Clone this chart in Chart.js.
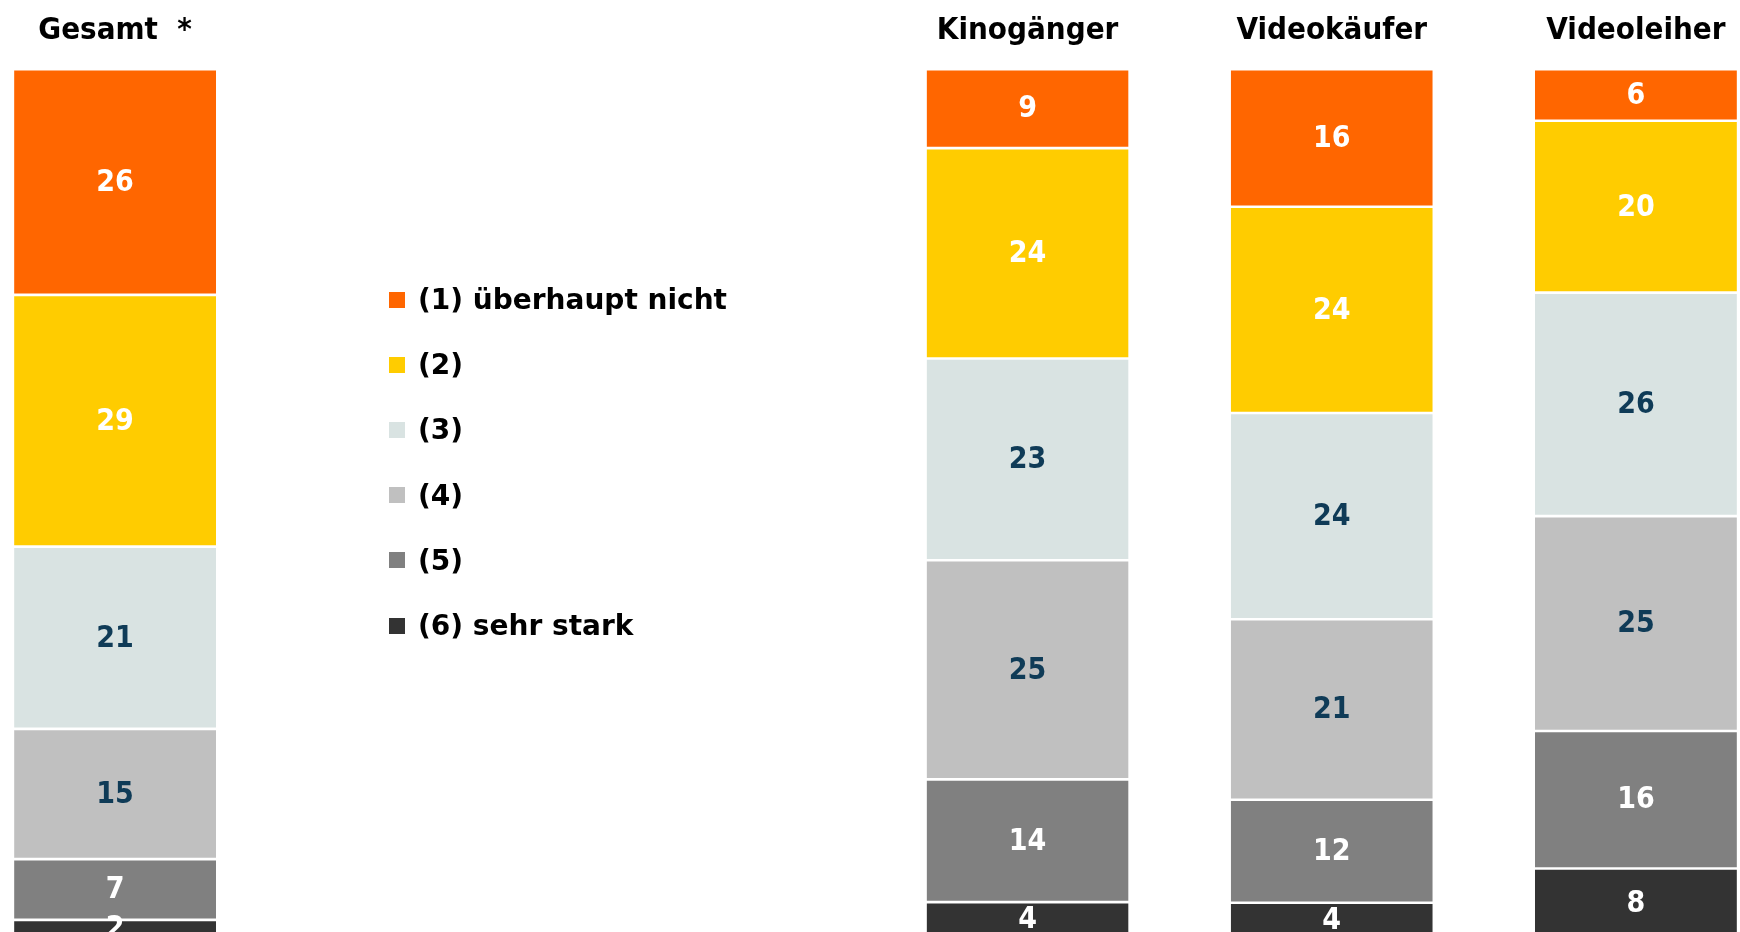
<!DOCTYPE html>
<html>
<head>
<meta charset="utf-8">
<script src="https://cdn.jsdelivr.net/npm/chart.js@4.4.1/dist/chart.umd.min.js"></script>
<style>
  html, body { margin: 0; padding: 0; background: #fff; overflow: hidden; width: 1740px; height: 932px; }
  #c { position: absolute; left: -37px; top: -8px; }
  #legend { position: absolute; left: 389px; top: 267px; font: bold 28px "DejaVu Sans", Verdana, sans-serif; color: #000; }
  .item { height: 65.2px; display: flex; align-items: center; white-space: pre; }
  .box { width: 16px; height: 16px; margin-right: 13px; flex: none; }
</style>
</head>
<body>
<canvas id="c" width="1825" height="949"></canvas>
<div id="legend"></div>
<script>
// two empty slots leave room for the legend
const categories = ['Gesamt  *', '', '', 'Kinogänger', 'Videokäufer', 'Videoleiher'];
const seriesNames = ['(1) überhaupt nicht', '(2)', '(3)', '(4)', '(5)', '(6) sehr stark'];

const s1 = [26, null, null, 9, 16, 6];
const s2 = [29, null, null, 24, 24, 20];
const s3 = [21, null, null, 23, 24, 26];
const s4 = [15, null, null, 25, 21, 25];
const s5 = [7, null, null, 14, 12, 16];
const s6 = [2, null, null, 4, 4, 8];

const fills = ['#FF6600', '#FFCC00', '#D9E3E2', '#C0C0C0', '#808080', '#333333'];
const labelColors = ['#FFFFFF', '#FFFFFF', '#0F3B57', '#0F3B57', '#FFFFFF', '#FFFFFF'];

const allSeries = [s1, s2, s3, s4, s5, s6];
const condFont = '"DejaVu Sans Condensed", "DejaVu Sans", Verdana, sans-serif';

// every bar is drawn as 100 %, the rounded values don't always add up
const totals = categories.map((c, j) => allSeries.reduce((t, s) => t + (s[j] || 0), 0));
const shares = allSeries.map(s => s.map((v, j) => v == null ? null : v / totals[j] * 100));

// write the values in the middle of each segment
const valueLabels = {
  id: 'valueLabels',
  afterDatasetsDraw(chart) {
    const ctx = chart.ctx;
    ctx.save();
    ctx.font = 'bold 30px ' + condFont;
    ctx.textAlign = 'center';
    ctx.textBaseline = 'middle';
    chart.data.datasets.forEach((ds, i) => {
      const meta = chart.getDatasetMeta(i);
      meta.data.forEach((bar, j) => {
        const v = allSeries[i][j];
        if (v == null) return;
        ctx.fillStyle = labelColors[i];
        ctx.fillText(String(v), bar.x, (bar.y + bar.base) / 2 + 1);
      });
    });
    ctx.restore();
  }
};

const chart = new Chart(document.getElementById('c'), {
  type: 'bar',
  data: {
    labels: categories,
    datasets: shares.map((d, i) => ({
      label: seriesNames[i],
      data: d,
      backgroundColor: fills[i],
      borderColor: '#FFFFFF',
      borderWidth: { top: 1.3, bottom: 1.3, left: 0, right: 0 },
      borderSkipped: false,
      categoryPercentage: 1,
      barPercentage: 0.664
    }))
  },
  options: {
    responsive: false,
    animation: false,
    devicePixelRatio: 1,
    layout: { padding: { top: 0, bottom: 3.8, left: 0, right: 0 } },
    plugins: {
      legend: { display: false },
      tooltip: { enabled: false }
    },
    scales: {
      x: {
        position: 'top',
        stacked: true,
        grid: { display: false, drawTicks: false },
        border: { display: false },
        ticks: {
          color: '#000',
          padding: 20,
          maxRotation: 0,
          autoSkip: false,
          font: { family: condFont, size: 31, weight: 'bold' }
        }
      },
      y: {
        display: false,
        stacked: true,
        reverse: true,
        min: 0,
        max: 100
      }
    }
  },
  plugins: [valueLabels]
});

// html legend built from the chart's own legend items
const legendBox = document.getElementById('legend');
chart.options.plugins.legend.labels.generateLabels(chart).forEach(item => {
  const row = document.createElement('div');
  row.className = 'item';
  const sw = document.createElement('span');
  sw.className = 'box';
  sw.style.background = item.fillStyle;
  const tx = document.createElement('span');
  tx.textContent = item.text;
  row.appendChild(sw);
  row.appendChild(tx);
  legendBox.appendChild(row);
});
</script>
</body>
</html>
